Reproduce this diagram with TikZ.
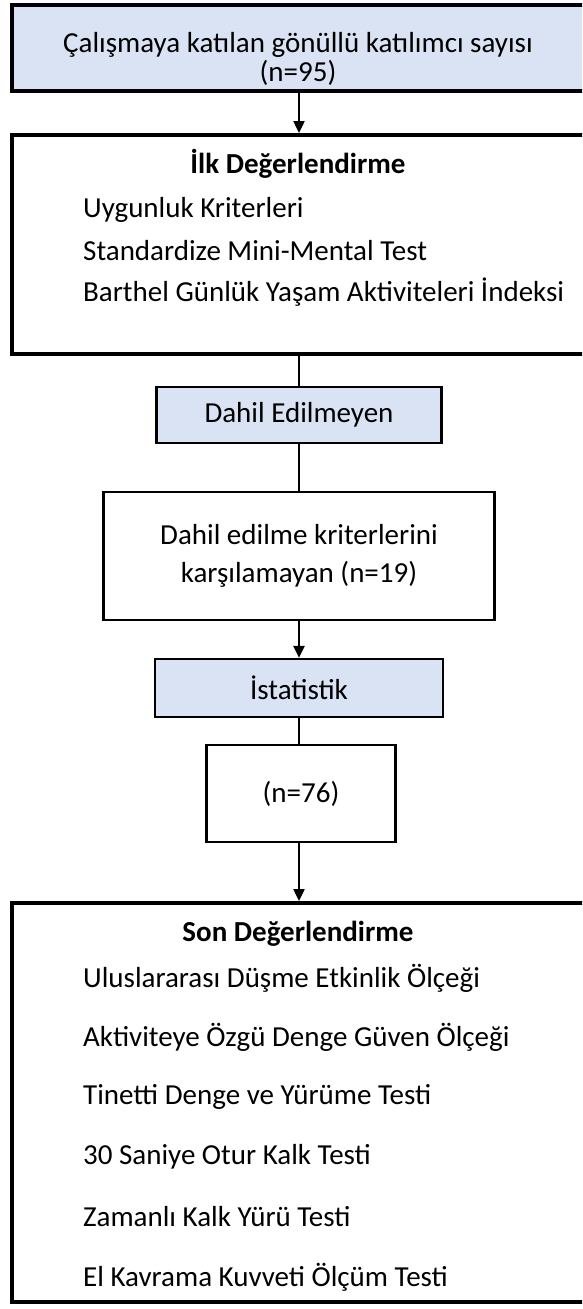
\documentclass[tikz,border=0pt]{standalone}
\usepackage{fontspec}
\setmainfont{Carlito}
\usetikzlibrary{arrows.meta}
\definecolor{acikmavi}{HTML}{DAE3F3}
\tikzset{
  kalin/.style={draw, line width=4pt},
  ince/.style={draw, line width=2.4pt},
  ok/.style={line width=2.4pt, -{Triangle[width=11pt,length=12pt]}},
  cizgi/.style={line width=2.4pt},
  yazi/.style={font=\fontsize{29}{38}\selectfont, align=center},
  madde/.style={font=\fontsize{29}{34}\selectfont, anchor=west, inner sep=0pt}
}
\begin{document}
\begin{tikzpicture}[x=1pt, y=-1pt]
  \useasboundingbox (0,0) rectangle (582,1309);
  \begin{scope}
  \clip (0,0) rectangle (582,1309);
  \node[kalin, fill=acikmavi, minimum width=574pt, minimum height=86pt] (kutu1) at (299,48) {};
  \node[kalin, minimum width=574pt, minimum height=219pt] (kutu2) at (299,244.5) {};
  \node[ince, fill=acikmavi, minimum width=285pt, minimum height=56pt, yazi] (kutu3) at (299,415) {Dahil Edilmeyen};
  \node[ince, minimum width=391pt, minimum height=128pt, yazi] (kutu4) at (299,556)
    {Dahil edilme kriterlerini\\karşılamayan (n=19)};
  \node[ince, fill=acikmavi, minimum width=288pt, minimum height=58pt, yazi] (kutu5) at (299,688) {İstatistik};
  \node[ince, minimum width=189pt, minimum height=97pt, yazi] (kutu6) at (301,793.5) {(n=76)};
  \node[kalin, minimum width=574pt, minimum height=399pt] (kutu7) at (299,1102.5) {};
  \end{scope}
  % ilk kutu
  \node[yazi] (satir1) at (298,45) {Çalışmaya katılan gönüllü katılımcı sayısı};
  \node[yazi] (satir2) at (298,73) {(n=95)};
  % ilk degerlendirme
  \node[yazi] (baslik1) at (298,164) {\bfseries İlk Değerlendirme};
  \node[madde] (m1) at (83,210) {Uygunluk Kriterleri};
  \node[madde] (m2) at (83,251) {Standardize Mini-Mental Test};
  \node[madde] (m3) at (83,292) {Barthel Günlük Yaşam Aktiviteleri İndeksi};
  % son degerlendirme
  \node[yazi] (baslik2) at (298,934) {\bfseries Son Değerlendirme};
  \node[madde] (s1) at (83,978) {Uluslararası Düşme Etkinlik Ölçeği};
  \node[madde] (s2) at (83,1037) {Aktiviteye Özgü Denge Güven Ölçeği};
  \node[madde] (s3) at (83,1097) {Tinetti Denge ve Yürüme Testi};
  \node[madde] (s4) at (83,1157) {30 Saniye Otur Kalk Testi};
  \node[madde] (s5) at (83,1217) {Zamanlı Kalk Yürü Testi};
  \node[madde] (s6) at (83,1277) {El Kavrama Kuvveti Ölçüm Testi};
  % baglantilar
  \draw[ok] (kutu1.south) -- (kutu2.north);
  \draw[cizgi] (kutu2.south) -- (kutu3.north);
  \draw[cizgi] (kutu3.south) -- (kutu4.north);
  \draw[ok] (kutu4.south) -- (kutu5.north);
  \draw[cizgi] (kutu5.south) -- (kutu6.north -| kutu5.south);
  \draw[ok] (kutu6.south -| kutu5.south) -- (kutu7.north -| kutu5.south);
\end{tikzpicture}
\end{document}
